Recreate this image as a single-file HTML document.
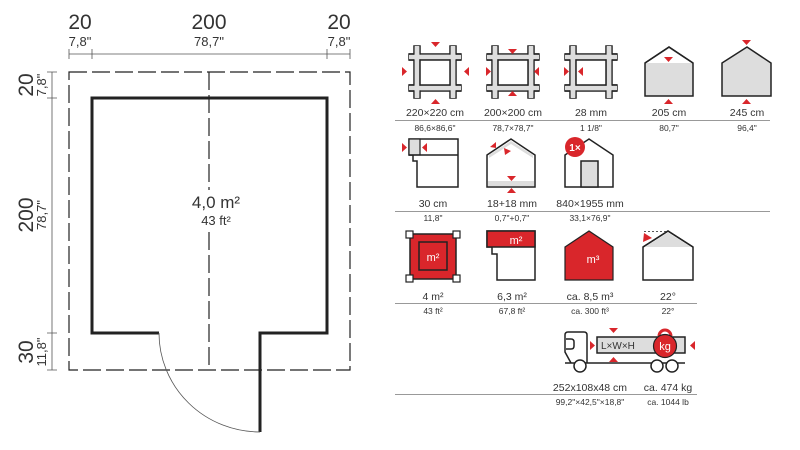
<!DOCTYPE html>
<html><head><meta charset="utf-8"><style>
html,body{margin:0;padding:0;background:#fff}
svg{display:block}
text{font-family:"Liberation Sans",sans-serif;fill:#333}
</style></head><body>
<svg width="800" height="450" viewBox="0 0 800 450" xmlns="http://www.w3.org/2000/svg">
<defs>
<g id="frame">
 <rect x="-26" y="-18" width="52" height="6" fill="#ddd" stroke="#222" stroke-width="1.5"/>
 <rect x="-26" y="13" width="52" height="6" fill="#ddd" stroke="#222" stroke-width="1.5"/>
 <rect x="-21" y="-26" width="6" height="52" fill="#ddd" stroke="#222" stroke-width="1.5"/>
 <rect x="15" y="-26" width="6" height="52" fill="#ddd" stroke="#222" stroke-width="1.5"/>
 <rect x="-26" y="-17.3" width="52" height="4.6" fill="#ddd"/>
 <rect x="-26" y="13.7" width="52" height="4.6" fill="#ddd"/>
 <rect x="-20.3" y="-26" width="4.6" height="52" fill="#ddd"/>
 <rect x="15.7" y="-26" width="4.6" height="52" fill="#ddd"/>
 <rect x="-15" y="-12" width="30" height="25" fill="#fff" stroke="#222" stroke-width="1.5"/>
 <path d="M-26 -18H-21M-26 -12H-21M21 -18H26M21 -12H26M-26 13H-21M-26 19H-21M21 13H26M21 19H26" stroke="#222" stroke-width="1.5"/>
</g>
</defs>

<!-- FLOOR PLAN -->
<g stroke="#222" fill="none">
 <path d="M69 54H350M69 49V59M92 49V59M327 49V59M350 49V59" stroke="#555" stroke-width="0.8"/>
 <path d="M52 72V370M47 72H57M47 98H57M47 333H57M47 370H57" stroke="#555" stroke-width="0.8"/>
 <rect x="69" y="72" width="281" height="298" stroke-width="1.2" stroke-dasharray="18,5"/>
 <path d="M209 72V190M209 232V370" stroke-width="1.2" stroke-dasharray="18,5"/>
 <path d="M159 333H92V98H327V333H260V432" stroke-width="3"/>
 <path d="M159 333A101 99 0 0 0 260 432" stroke-width="0.8" stroke="#555"/>
</g>
<g text-anchor="middle">
 <text x="80" y="29" font-size="21">20</text><text x="80" y="46" font-size="13">7,8"</text>
 <text x="209" y="29" font-size="21">200</text><text x="209" y="46" font-size="13">78,7"</text>
 <text x="339" y="29" font-size="21">20</text><text x="339" y="46" font-size="13">7,8"</text>
 <text transform="translate(33,85) rotate(-90)" font-size="21">20</text>
 <text transform="translate(46,85) rotate(-90)" font-size="13">7,8"</text>
 <text transform="translate(33,215) rotate(-90)" font-size="21">200</text>
 <text transform="translate(46,215) rotate(-90)" font-size="13">78,7"</text>
 <text transform="translate(33,352) rotate(-90)" font-size="21">30</text>
 <text transform="translate(46,352) rotate(-90)" font-size="13">11,8"</text>
 <text x="216" y="208" font-size="17">4,0 m²</text>
 <text x="216" y="225" font-size="13">43 ft²</text>
</g>

<!-- separators -->
<g stroke="#999" stroke-width="1">
 <path d="M395 120.5H770M395 211.5H770M395 303.5H697M395 394.5H697"/>
</g>

<!-- Row1 -->
<use href="#frame" x="435" y="72"/>
<use href="#frame" x="513" y="72"/>
<use href="#frame" x="591" y="72"/>
<g fill="#d9262b">
 <path d="M431 42h9l-4.5 5z M431 104h9l-4.5-5z M402 67v9l5-4.5z M469 67v9l-5-4.5z"/>
 <path d="M508 49h9l-4.5 5z M508 96h9l-4.5-5z M486 67v9l5-4.5z M539 67v9l-5-4.5z"/>
 <path d="M564 67v9l5-4.5z M583 67v9l-5-4.5z"/>
</g>
<path d="M645 63L669 47L693 63V96H645Z" fill="#ddd" stroke="#222" stroke-width="1.5"/>
<path d="M646.5 63L669 48.5L691.5 63Z" fill="#fff"/>
<path d="M645 63L669 47L693 63" fill="none" stroke="#222" stroke-width="1.5"/>
<path d="M722 63L747 47L771 63V96H722Z" fill="#ddd" stroke="#222" stroke-width="1.5"/>
<g fill="#d9262b">
 <path d="M664 57h9l-4.5 5z M664 104h9l-4.5-5z M742 40h9l-4.5 5z M742 104h9l-4.5-5z"/>
</g>
<g text-anchor="middle">
 <text x="435" y="116" font-size="10.5">220×220 cm</text><text x="435" y="131" font-size="8.5">86,6×86,6"</text>
 <text x="513" y="116" font-size="10.5">200×200 cm</text><text x="513" y="131" font-size="8.5">78,7×78,7"</text>
 <text x="591" y="116" font-size="10.5">28 mm</text><text x="591" y="131" font-size="8.5">1 1/8"</text>
 <text x="669" y="116" font-size="10.5">205 cm</text><text x="669" y="131" font-size="8.5">80,7"</text>
 <text x="747" y="116" font-size="10.5">245 cm</text><text x="747" y="131" font-size="8.5">96,4"</text>
</g>

<!-- Row2 -->
<path d="M409 139H458V187H417V161H413V155H409Z" fill="#fff" stroke="#222" stroke-width="1.5"/>
<rect x="409" y="139" width="11" height="16" fill="#ddd" stroke="#222" stroke-width="1.2"/>
<path d="M409 155H458" stroke="#222" stroke-width="1.5"/>
<g fill="#d9262b"><path d="M402 143v9l5-4.5z M427 143v9l-5-4.5z"/></g>
<path d="M487 155L511 139L535 155V187H487Z" fill="#fff" stroke="#222" stroke-width="1.5"/>
<path d="M489 155L511 141L533 155V158L511 144L489 158Z" fill="#ddd"/>
<rect x="488" y="181" width="46" height="5" fill="#ddd"/>
<g fill="#d9262b"><path d="M490 147l6-5v6z M507 176h9l-4.5 5z M507 193h9l-4.5-5z M511 151l-7 -3 1 7z"/></g>
<path d="M565 155L589 139L613 155V187H565Z" fill="#fff" stroke="#222" stroke-width="1.5"/>
<rect x="581" y="161" width="17" height="26" fill="#ddd" stroke="#222" stroke-width="1.5"/>
<circle cx="575" cy="147" r="10" fill="#d9262b"/>
<text x="575" y="151" font-size="10" text-anchor="middle" style="fill:#fff" font-weight="bold">1×</text>
<g text-anchor="middle">
 <text x="433" y="207" font-size="10.5">30 cm</text><text x="433" y="221" font-size="8.5">11,8"</text>
 <text x="512" y="207" font-size="10.5">18+18 mm</text><text x="512" y="221" font-size="8.5">0,7"+0,7"</text>
 <text x="590" y="207" font-size="10.5">840×1955 mm</text><text x="590" y="221" font-size="8.5">33,1×76,9"</text>
</g>

<!-- Row3 -->
<g>
 <rect x="410" y="234" width="46" height="45" fill="#d9262b" stroke="#222" stroke-width="1.5"/>
 <rect x="406" y="231" width="7" height="7" fill="#fff" stroke="#222" stroke-width="1.2"/>
 <rect x="453" y="231" width="7" height="7" fill="#fff" stroke="#222" stroke-width="1.2"/>
 <rect x="406" y="275" width="7" height="7" fill="#fff" stroke="#222" stroke-width="1.2"/>
 <rect x="453" y="275" width="7" height="7" fill="#fff" stroke="#222" stroke-width="1.2"/>
 <rect x="419" y="242" width="28" height="28" fill="#d9262b" stroke="#222" stroke-width="1.5"/>
 <text x="433" y="261" font-size="11" text-anchor="middle" style="fill:#fff">m²</text>
</g>
<path d="M487 231H535V280H497V254H492V247H487Z" fill="#fff" stroke="#222" stroke-width="1.5"/>
<rect x="487" y="231" width="48" height="16" fill="#d9262b" stroke="#222" stroke-width="1.5"/>
<text x="516" y="244" font-size="11" text-anchor="middle" style="fill:#fff">m²</text>
<path d="M565 247L589 231L613 247V280H565Z" fill="#d9262b" stroke="#222" stroke-width="1.2"/>
<text x="593" y="263" font-size="11" text-anchor="middle" style="fill:#fff">m³</text>
<path d="M643 247L668 231L693 247V280H643Z" fill="#fff" stroke="#222" stroke-width="1.5"/>
<path d="M645 247L668 232.5L691 247Z" fill="#ddd"/>
<path d="M643 247L668 231L693 247" fill="none" stroke="#222" stroke-width="1.5"/>
<path d="M644 231.5H668" stroke="#222" stroke-width="0.8" stroke-dasharray="2,2"/>
<path d="M644 233L643 242L652 238Z" fill="#d9262b"/>
<g text-anchor="middle">
 <text x="433" y="300" font-size="10.5">4 m²</text><text x="433" y="314" font-size="8.5">43 ft²</text>
 <text x="512" y="300" font-size="10.5">6,3 m²</text><text x="512" y="314" font-size="8.5">67,8 ft²</text>
 <text x="590" y="300" font-size="10.5">ca. 8,5 m³</text><text x="590" y="314" font-size="8.5">ca. 300 ft³</text>
 <text x="668" y="300" font-size="10.5">22°</text><text x="668" y="314" font-size="8.5">22°</text>
</g>

<!-- Truck -->
<g stroke="#222" stroke-width="1.5" fill="#fff">
 <path d="M587 363V335Q587 332 584 332H568Q565 332 565 335V352L571 363"/>
 <path d="M566 339H571Q574 339 574 342V346Q574 349 571 349H566" fill="none"/>
 <path d="M565 363H685" fill="none"/>
 <rect x="597" y="337" width="88" height="16" fill="#ddd"/>
 <circle cx="580" cy="366" r="6"/>
 <circle cx="657" cy="366" r="6"/>
 <circle cx="672" cy="366" r="6"/>
</g>
<text x="601" y="349" font-size="10">L×W×H</text>
<g fill="#d9262b" stroke="#222" stroke-width="1.2">
 <path d="M659 336a6 6 0 1 1 12 0" fill="none" stroke="#d9262b" stroke-width="3"/>
 <circle cx="665" cy="346" r="11.5"/>
</g>
<text x="665" y="350" font-size="11" text-anchor="middle" style="fill:#fff">kg</text>
<g fill="#d9262b"><path d="M609 328h9l-4.5 5z M609 362h9l-4.5-5z M590 341v9l5-4.5z M695 341v9l-5-4.5z"/></g>
<g text-anchor="middle">
 <text x="590" y="391" font-size="10.5">252x108x48 cm</text><text x="590" y="405" font-size="8.5">99,2"×42,5"×18,8"</text>
 <text x="668" y="391" font-size="10.5">ca. 474 kg</text><text x="668" y="405" font-size="8.5">ca. 1044 lb</text>
</g>
</svg>
</body></html>
